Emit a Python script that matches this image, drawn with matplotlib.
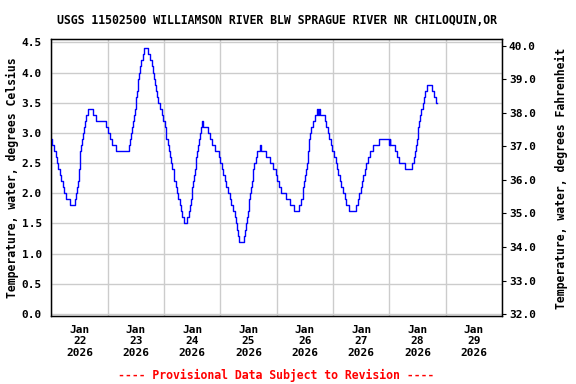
import matplotlib
matplotlib.use('Agg')
import matplotlib.pyplot as plt
import matplotlib.dates as mdates
from matplotlib.ticker import MultipleLocator, FormatStrFormatter
from datetime import datetime, timedelta

# step knots: hours after Jan 22 00:00, water temperature in deg C
start = datetime(2026, 1, 22)
hours = [0, 0.4, 1.1, 1.9, 2.3, 2.7, 3.6, 4.0, 4.7, 5.4, 6.1, 7.7,
         9.9, 10.4, 10.9, 11.2, 11.6, 12.0, 12.3, 12.6, 13.0, 13.4, 13.8, 14.2, 14.7, 15.4,
         17.7, 18.9, 23.1, 24.0, 24.8, 26.0, 27.7,
         32.9, 33.5, 34.0, 34.5, 34.9, 35.3, 35.6, 35.9, 36.1, 36.4, 36.7, 37.0, 37.3, 37.8,
         38.3, 39.0, 39.6,
         41.0, 42.0, 42.9, 43.4, 43.7, 44.3, 44.6, 45.0, 45.6, 46.4, 47.0, 47.6, 48.2, 48.6,
         49.0, 49.5, 50.0, 50.5, 51.0, 51.5, 52.0, 52.4, 52.9, 53.4, 54.0, 54.6, 55.2, 55.8,
         56.4,
         57.9, 58.4, 58.9, 59.3, 59.7, 60.0, 60.4, 60.7, 61.0, 61.4, 61.7, 62.0, 62.4, 62.9,
         63.3, 63.6, 64.0,
         64.6, 66.5, 67.4, 68.5, 69.5, 71.2, 71.8, 72.5, 73.1, 73.8, 74.5, 75.2, 75.9, 76.6,
         77.3, 78.0, 78.6, 79.1, 79.6, 80.0,
         82.0, 82.5, 82.9, 83.3, 83.6, 84.0, 84.3, 84.7, 85.0, 85.3, 85.7, 86.0, 86.4, 87.0,
         87.6, 88.8,
         89.5, 91.5, 93.0, 94.4, 95.5, 96.3, 97.0, 97.9, 99.8, 101.5, 103.2,
         105.5, 106.3, 107.0, 107.4, 107.8, 108.2, 108.6, 108.9, 109.2, 109.5, 109.8, 110.1,
         110.7, 111.6, 112.4, 113.2, 113.5, 114.0, 114.3,
         116.5, 117.0, 117.7, 118.3, 119.0, 119.7, 120.4, 121.2, 121.7, 122.3, 122.9, 123.6,
         124.2, 124.9, 125.6, 126.9,
         129.6, 130.7, 131.2, 131.8, 132.4, 132.9, 133.6, 134.2, 134.9, 135.8, 137.1, 139.6,
         143.8, 144.1, 144.3, 146.6, 147.3, 148.3, 150.7,
         153.8, 154.3, 154.8, 155.2, 155.6, 156.0, 156.3, 156.6, 156.9, 157.4, 158.2, 158.8,
         159.4, 160.0,
         162.1, 163.2, 164.0, 164.3]
temp_c = [2.9, 2.8, 2.7, 2.6, 2.5, 2.4, 2.3, 2.2, 2.1, 2.0, 1.9, 1.8,
          1.9, 2.0, 2.1, 2.2, 2.4, 2.6, 2.7, 2.8, 2.9, 3.0, 3.1, 3.2, 3.3, 3.4,
          3.3, 3.2, 3.1, 3.0, 2.9, 2.8, 2.7,
          2.8, 2.9, 3.0, 3.1, 3.2, 3.3, 3.4, 3.5, 3.6, 3.7, 3.8, 3.9, 4.0, 4.1,
          4.2, 4.3, 4.4,
          4.3, 4.2, 4.1, 4.0, 3.9, 3.8, 3.7, 3.6, 3.5, 3.4, 3.3, 3.2, 3.1, 3.0,
          2.9, 2.8, 2.7, 2.6, 2.5, 2.4, 2.3, 2.2, 2.1, 2.0, 1.9, 1.8, 1.7, 1.6,
          1.5,
          1.6, 1.7, 1.8, 1.9, 2.0, 2.1, 2.2, 2.3, 2.4, 2.5, 2.6, 2.7, 2.8, 2.9,
          3.0, 3.1, 3.2,
          3.1, 3.0, 2.9, 2.8, 2.7, 2.6, 2.5, 2.4, 2.3, 2.2, 2.1, 2.0, 1.9, 1.8,
          1.7, 1.6, 1.5, 1.4, 1.3, 1.2,
          1.3, 1.4, 1.5, 1.6, 1.7, 1.8, 1.9, 2.0, 2.1, 2.2, 2.3, 2.4, 2.5, 2.6,
          2.7, 2.8,
          2.7, 2.6, 2.5, 2.4, 2.3, 2.2, 2.1, 2.0, 1.9, 1.8, 1.7,
          1.8, 1.9, 2.0, 2.1, 2.2, 2.3, 2.4, 2.5, 2.6, 2.7, 2.9, 3.0,
          3.1, 3.2, 3.3, 3.4, 3.3, 3.4, 3.3,
          3.2, 3.1, 3.0, 2.9, 2.8, 2.7, 2.6, 2.5, 2.4, 2.3, 2.2, 2.1,
          2.0, 1.9, 1.8, 1.7,
          1.8, 1.9, 2.0, 2.1, 2.2, 2.3, 2.4, 2.5, 2.6, 2.7, 2.8, 2.9,
          2.8, 2.9, 2.8, 2.7, 2.6, 2.5, 2.4,
          2.5, 2.6, 2.7, 2.8, 2.9, 3.0, 3.1, 3.2, 3.3, 3.4, 3.5, 3.6,
          3.7, 3.8,
          3.7, 3.6, 3.5, 3.5]
day_labels = ['Jan\n22\n2026', 'Jan\n23\n2026', 'Jan\n24\n2026', 'Jan\n25\n2026',
              'Jan\n26\n2026', 'Jan\n27\n2026', 'Jan\n28\n2026', 'Jan\n29\n2026']

title = 'USGS 11502500 WILLIAMSON RIVER BLW SPRAGUE RIVER NR CHILOQUIN,OR'
mono = 'DejaVu Sans Mono'

times = [start + timedelta(hours=h) for h in hours]
ymin, ymax = -0.04, 4.55

fig = plt.figure(figsize=(5.76, 3.84), dpi=100)
ax = fig.add_axes([0.0894, 0.1758, 0.7821, 0.7219])
ax.plot(times, temp_c, color='#0000ff', lw=1.0, drawstyle='steps-post', zorder=3)

ax.set_xlim(start, start + timedelta(days=8))
ax.set_ylim(ymin, ymax)

# gridlines at midnight, labels at noon
ax.xaxis.set_major_locator(mdates.DayLocator())
ax.xaxis.set_major_formatter(plt.NullFormatter())
noons = [mdates.date2num(start + timedelta(days=i, hours=12)) for i in range(len(day_labels))]
ax.set_xticks(noons, minor=True)
ax.set_xticklabels(day_labels, minor=True, fontfamily=mono, fontweight='bold', fontsize=8)
ax.tick_params(axis='x', which='both', length=0, pad=6)

ax.yaxis.set_major_locator(MultipleLocator(0.5))
ax.yaxis.set_major_formatter(FormatStrFormatter('%.1f'))
ax.tick_params(axis='y', length=0, pad=7)
for lab in ax.get_yticklabels():
    lab.set_fontfamily(mono)
    lab.set_fontweight('bold')
    lab.set_fontsize(8)

ax.grid(True, which='major', color='#cccccc', lw=1.0, zorder=0)
ax.set_axisbelow(True)
for s in ax.spines.values():
    s.set_color('black')
    s.set_linewidth(1.0)

ax.set_ylabel('Temperature, water, degrees Celsius', fontfamily=mono,
              fontweight='bold', fontsize=8.3, labelpad=1.5)

ax2 = ax.twinx()
ax2.set_ylim(ymin * 1.8 + 32, ymax * 1.8 + 32)
ax2.yaxis.set_major_locator(MultipleLocator(1.0))
ax2.yaxis.set_major_formatter(FormatStrFormatter('%.1f'))
ax2.tick_params(axis='y', length=3, pad=2)
for lab in ax2.get_yticklabels():
    lab.set_fontfamily(mono)
    lab.set_fontweight('bold')
    lab.set_fontsize(8)
ax2.set_ylabel('Temperature, water, degrees Fahrenheit', fontfamily=mono,
               fontweight='bold', fontsize=8.3, labelpad=14)

ax.set_title(title, fontfamily=mono, fontweight='bold', fontsize=8.3, pad=11)
fig.text(0.479, 0.022, '---- Provisional Data Subject to Revision ----', color='red',
         ha='center', va='center', fontfamily=mono, fontweight='bold', fontsize=8.3)

fig.savefig('out.png', dpi=100)
